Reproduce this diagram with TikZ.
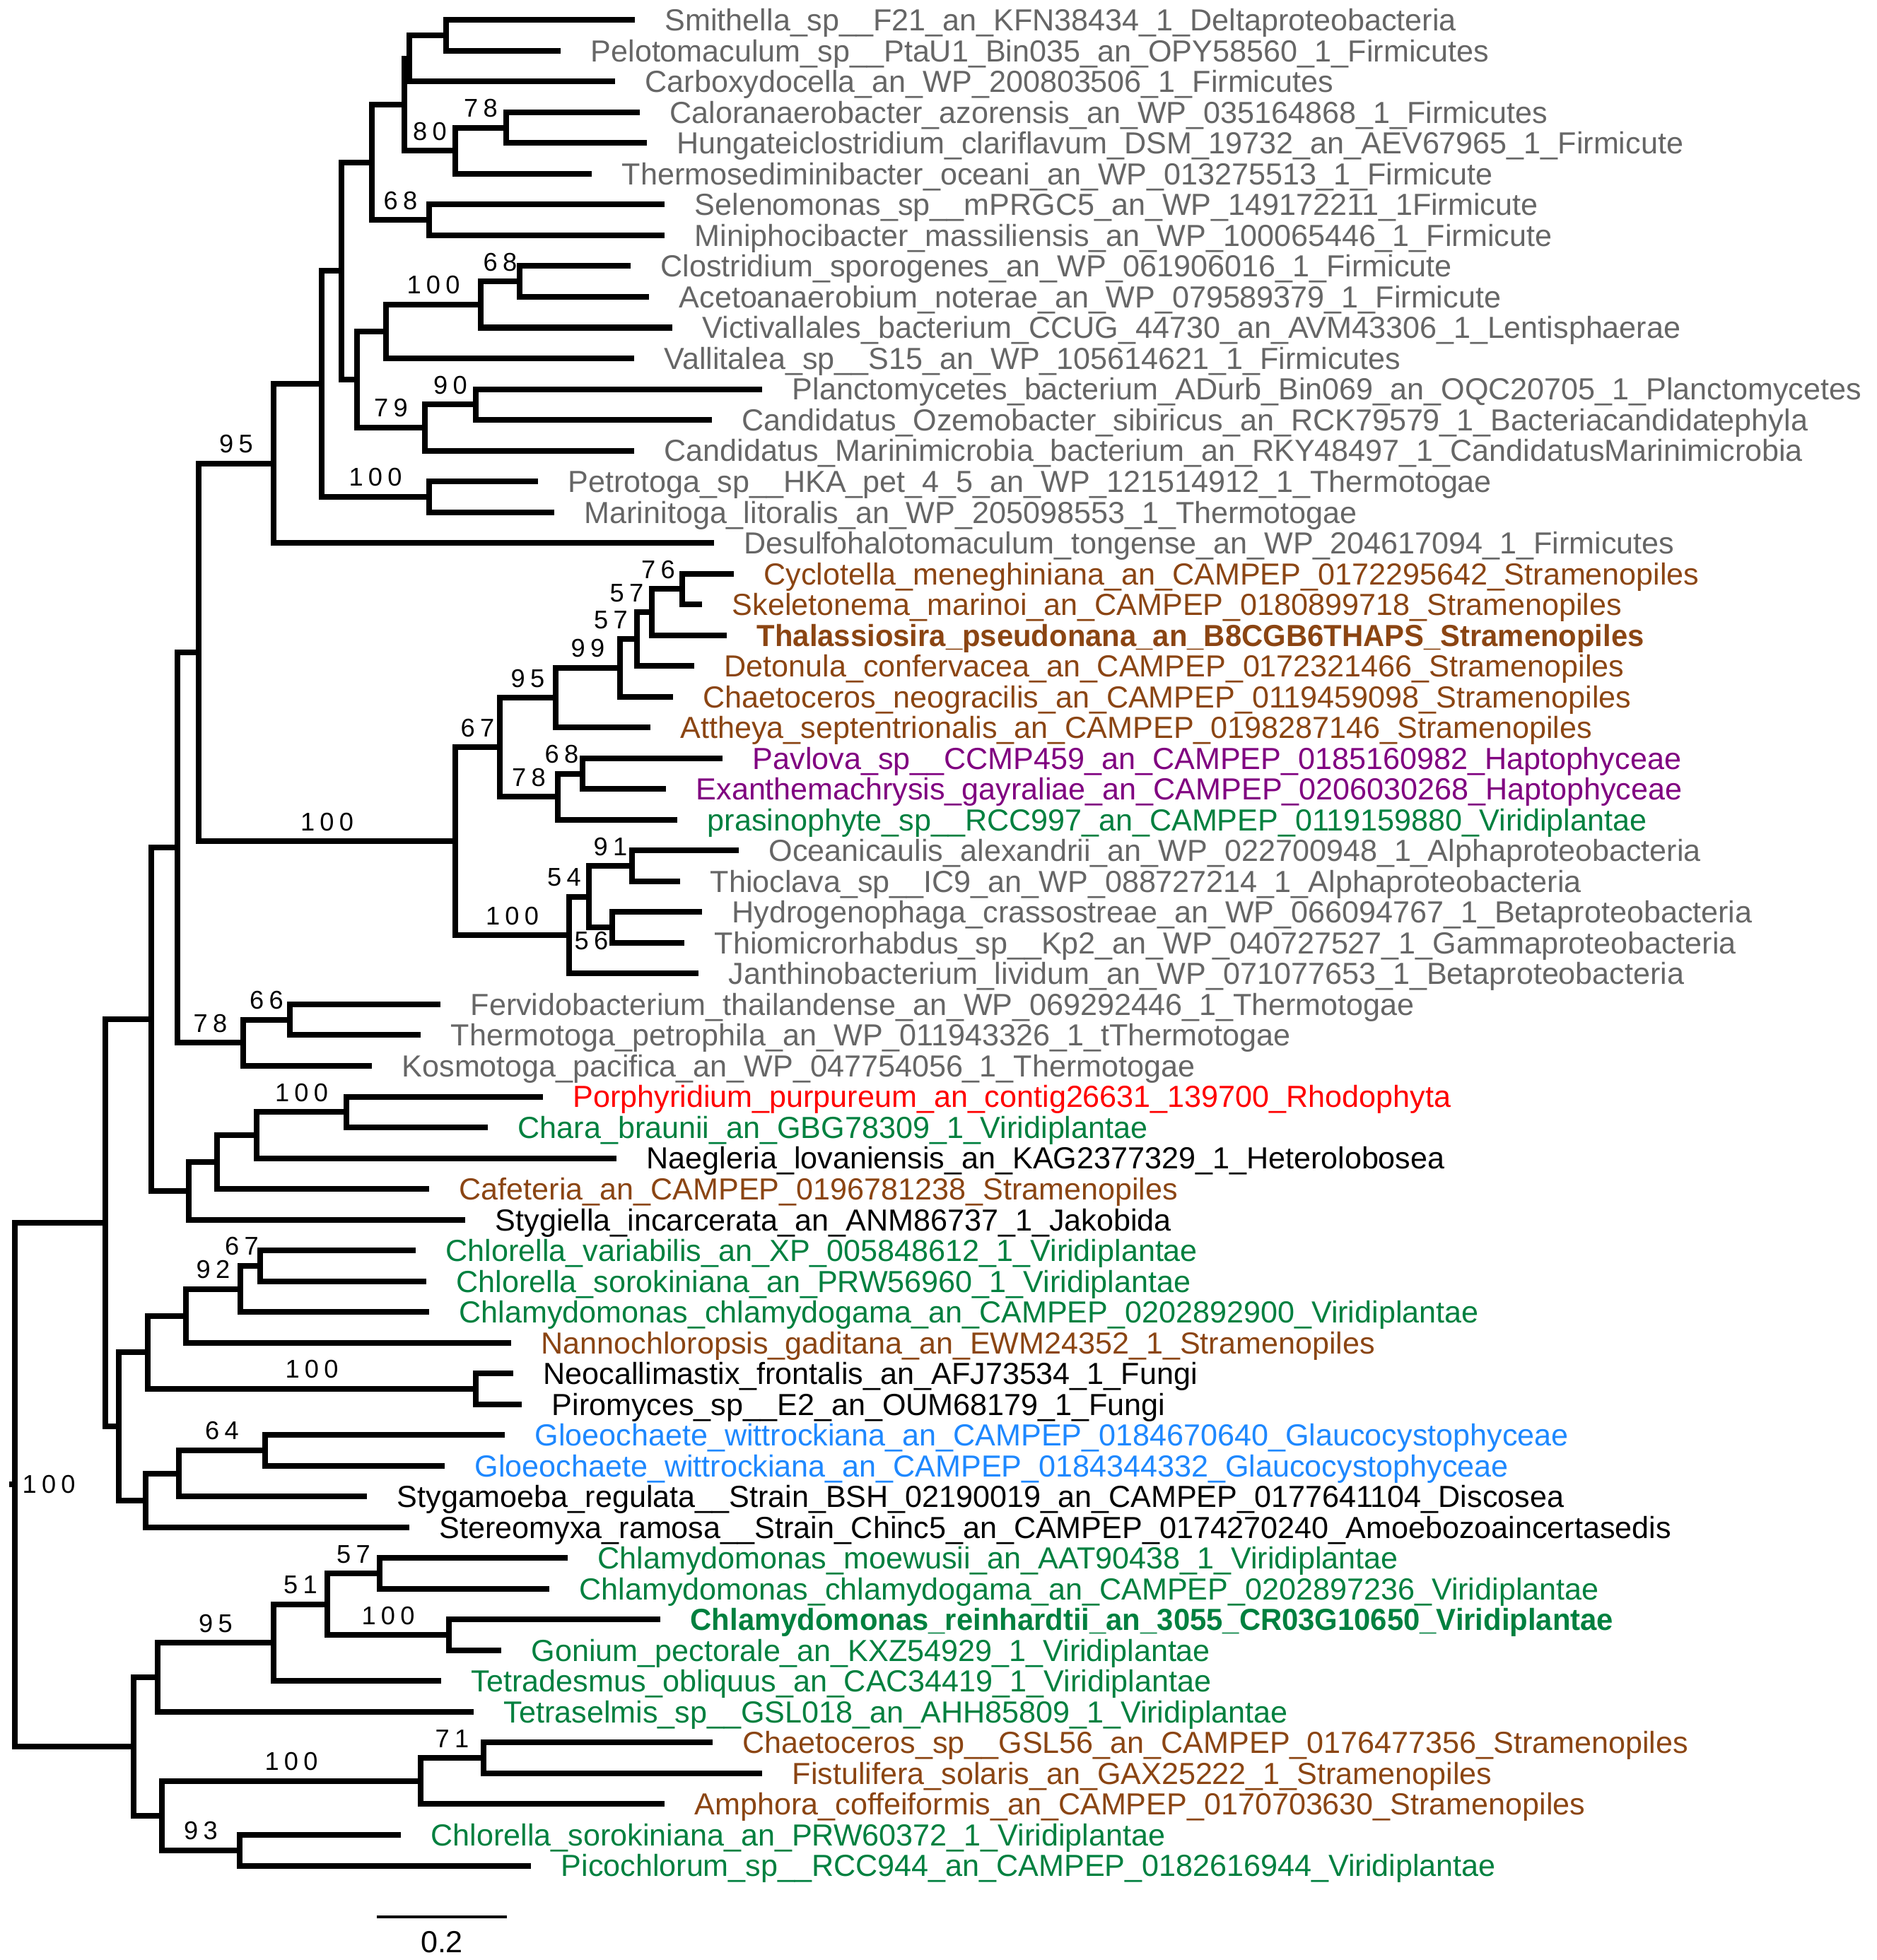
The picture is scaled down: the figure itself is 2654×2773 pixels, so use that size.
\documentclass[tikz,border=0pt]{standalone}
\usepackage{fontspec}
\setmainfont{Liberation Sans}
\newfontfamily\bootfont[LetterSpace=20]{Liberation Sans}
\newfontfamily\leafbold[FakeStretch=0.97]{Liberation Sans Bold}
\usetikzlibrary{calc}

\definecolor{bacgray}{HTML}{666666}
\definecolor{strabrown}{HTML}{8B4513}
\definecolor{haptpurple}{HTML}{800080}
\definecolor{virigreen}{HTML}{00803F}
\definecolor{glaublue}{HTML}{1E88FF}
\definecolor{rhodored}{HTML}{FF0000}

\newcommand{\leaffont}{\fontsize{12.26pt}{14pt}\selectfont}

\tikzset{
  branch/.style={line width=0.08cm, line join=miter},
  leaf/.style={anchor=base west, inner sep=0pt, xshift=0.42cm, yshift=-0.154cm, font=\leaffont},
  bac/.style={text=bacgray},
  stra/.style={text=strabrown},
  strab/.style={text=strabrown, font=\leaffont\leafbold},
  hapt/.style={text=haptpurple},
  viri/.style={text=virigreen},
  virib/.style={text=virigreen, font=\leaffont\leafbold},
  glau/.style={text=glaublue},
  rhodo/.style={text=rhodored},
  oth/.style={text=black},
  boot/.style={pos=0.5, anchor=base, inner sep=0pt, yshift=0.15cm, font=\bootfont\fontsize{10.3pt}{12pt}\selectfont},
}

% internal node: name, x, child, child
\newcommand{\clade}[4]{%
  \path let \p1=($(#3)!0.5!(#4)$) in (#2*0.01cm,\y1) coordinate (#1);
  \draw[branch] (#1) |- (#3);
  \draw[branch] (#1) |- (#4);
}

\begin{document}
\begin{tikzpicture}[x=0.01cm, y=-0.01cm]

  \useasboundingbox (0,0) rectangle (2654,2773);

  % tips
  \foreach \i/\xe/\grp/\txt in {
    1/898/bac/{Smithella\_sp\_\_F21\_an\_KFN38434\_1\_Deltaproteobacteria},
    2/793/bac/{Pelotomaculum\_sp\_\_PtaU1\_Bin035\_an\_OPY58560\_1\_Firmicutes},
    3/870/bac/{Carboxydocella\_an\_WP\_200803506\_1\_Firmicutes},
    4/905/bac/{Caloranaerobacter\_azorensis\_an\_WP\_035164868\_1\_Firmicutes},
    5/915/bac/{Hungateiclostridium\_clariflavum\_DSM\_19732\_an\_AEV67965\_1\_Firmicute},
    6/837/bac/{Thermosediminibacter\_oceani\_an\_WP\_013275513\_1\_Firmicute},
    7/940/bac/{Selenomonas\_sp\_\_mPRGC5\_an\_WP\_149172211\_1Firmicute},
    8/940/bac/{Miniphocibacter\_massiliensis\_an\_WP\_100065446\_1\_Firmicute},
    9/892/bac/{Clostridium\_sporogenes\_an\_WP\_061906016\_1\_Firmicute},
    10/918/bac/{Acetoanaerobium\_noterae\_an\_WP\_079589379\_1\_Firmicute},
    11/951/bac/{Victivallales\_bacterium\_CCUG\_44730\_an\_AVM43306\_1\_Lentisphaerae},
    12/897/bac/{Vallitalea\_sp\_\_S15\_an\_WP\_105614621\_1\_Firmicutes},
    13/1078/bac/{Planctomycetes\_bacterium\_ADurb\_Bin069\_an\_OQC20705\_1\_Planctomycetes},
    14/1007/bac/{Candidatus\_Ozemobacter\_sibiricus\_an\_RCK79579\_1\_Bacteriacandidatephyla},
    15/897/bac/{Candidatus\_Marinimicrobia\_bacterium\_an\_RKY48497\_1\_CandidatusMarinimicrobia},
    16/761/bac/{Petrotoga\_sp\_\_HKA\_pet\_4\_5\_an\_WP\_121514912\_1\_Thermotogae},
    17/784/bac/{Marinitoga\_litoralis\_an\_WP\_205098553\_1\_Thermotogae},
    18/1010/bac/{Desulfohalotomaculum\_tongense\_an\_WP\_204617094\_1\_Firmicutes},
    19/1038/stra/{Cyclotella\_meneghiniana\_an\_CAMPEP\_0172295642\_Stramenopiles},
    20/993/stra/{Skeletonema\_marinoi\_an\_CAMPEP\_0180899718\_Stramenopiles},
    21/1028/strab/{Thalassiosira\_pseudonana\_an\_B8CGB6THAPS\_Stramenopiles},
    22/982/stra/{Detonula\_confervacea\_an\_CAMPEP\_0172321466\_Stramenopiles},
    23/952/stra/{Chaetoceros\_neogracilis\_an\_CAMPEP\_0119459098\_Stramenopiles},
    24/920/stra/{Attheya\_septentrionalis\_an\_CAMPEP\_0198287146\_Stramenopiles},
    25/1022/hapt/{Pavlova\_sp\_\_CCMP459\_an\_CAMPEP\_0185160982\_Haptophyceae},
    26/942/hapt/{Exanthemachrysis\_gayraliae\_an\_CAMPEP\_0206030268\_Haptophyceae},
    27/958/viri/{prasinophyte\_sp\_\_RCC997\_an\_CAMPEP\_0119159880\_Viridiplantae},
    28/1045/bac/{Oceanicaulis\_alexandrii\_an\_WP\_022700948\_1\_Alphaproteobacteria},
    29/962/bac/{Thioclava\_sp\_\_IC9\_an\_WP\_088727214\_1\_Alphaproteobacteria},
    30/993/bac/{Hydrogenophaga\_crassostreae\_an\_WP\_066094767\_1\_Betaproteobacteria},
    31/968/bac/{Thiomicrorhabdus\_sp\_\_Kp2\_an\_WP\_040727527\_1\_Gammaproteobacteria},
    32/988/bac/{Janthinobacterium\_lividum\_an\_WP\_071077653\_1\_Betaproteobacteria},
    33/623/bac/{Fervidobacterium\_thailandense\_an\_WP\_069292446\_1\_Thermotogae},
    34/595/bac/{Thermotoga\_petrophila\_an\_WP\_011943326\_1\_tThermotogae},
    35/526/bac/{Kosmotoga\_pacifica\_an\_WP\_047754056\_1\_Thermotogae},
    36/768/rhodo/{Porphyridium\_purpureum\_an\_contig26631\_139700\_Rhodophyta},
    37/690/viri/{Chara\_braunii\_an\_GBG78309\_1\_Viridiplantae},
    38/872/oth/{Naegleria\_lovaniensis\_an\_KAG2377329\_1\_Heterolobosea},
    39/607/stra/{Cafeteria\_an\_CAMPEP\_0196781238\_Stramenopiles},
    40/658/oth/{Stygiella\_incarcerata\_an\_ANM86737\_1\_Jakobida},
    41/588/viri/{Chlorella\_variabilis\_an\_XP\_005848612\_1\_Viridiplantae},
    42/603/viri/{Chlorella\_sorokiniana\_an\_PRW56960\_1\_Viridiplantae},
    43/607/viri/{Chlamydomonas\_chlamydogama\_an\_CAMPEP\_0202892900\_Viridiplantae},
    44/723/stra/{Nannochloropsis\_gaditana\_an\_EWM24352\_1\_Stramenopiles},
    45/726/oth/{Neocallimastix\_frontalis\_an\_AFJ73534\_1\_Fungi},
    46/738/oth/{Piromyces\_sp\_\_E2\_an\_OUM68179\_1\_Fungi},
    47/714/glau/{Gloeochaete\_wittrockiana\_an\_CAMPEP\_0184670640\_Glaucocystophyceae},
    48/629/glau/{Gloeochaete\_wittrockiana\_an\_CAMPEP\_0184344332\_Glaucocystophyceae},
    49/519/oth/{Stygamoeba\_regulata\_\_Strain\_BSH\_02190019\_an\_CAMPEP\_0177641104\_Discosea},
    50/579/oth/{Stereomyxa\_ramosa\_\_Strain\_Chinc5\_an\_CAMPEP\_0174270240\_Amoebozoaincertasedis},
    51/803/viri/{Chlamydomonas\_moewusii\_an\_AAT90438\_1\_Viridiplantae},
    52/777/viri/{Chlamydomonas\_chlamydogama\_an\_CAMPEP\_0202897236\_Viridiplantae},
    53/934/virib/{Chlamydomonas\_reinhardtii\_an\_3055\_CR03G10650\_Viridiplantae},
    54/709/viri/{Gonium\_pectorale\_an\_KXZ54929\_1\_Viridiplantae},
    55/624/viri/{Tetradesmus\_obliquus\_an\_CAC34419\_1\_Viridiplantae},
    56/670/viri/{Tetraselmis\_sp\_\_GSL018\_an\_AHH85809\_1\_Viridiplantae},
    57/1008/stra/{Chaetoceros\_sp\_\_GSL56\_an\_CAMPEP\_0176477356\_Stramenopiles},
    58/1078/stra/{Fistulifera\_solaris\_an\_GAX25222\_1\_Stramenopiles},
    59/940/stra/{Amphora\_coffeiformis\_an\_CAMPEP\_0170703630\_Stramenopiles},
    60/567/viri/{Chlorella\_sorokiniana\_an\_PRW60372\_1\_Viridiplantae},
    61/751/viri/{Picochlorum\_sp\_\_RCC944\_an\_CAMPEP\_0182616944\_Viridiplantae}}
  {
    \coordinate (L\i) at (\xe, {28.3+(\i-1)*43.52});
    \node[leaf, \grp] (t\i) at (L\i) {\txt};
  }

  % bacterial clade
  \clade{nA}{631}{L1}{L2}
  \clade{nB}{579}{nA}{L3}
  \clade{n78a}{716}{L4}{L5}
  \clade{n80}{644}{n78a}{L6}
  \clade{nC}{572}{nB}{n80}
  \clade{n68a}{607}{L7}{L8}
  \clade{nD}{526}{nC}{n68a}
  \clade{n68b}{735}{L9}{L10}
  \clade{n100a}{680}{n68b}{L11}
  \clade{nG}{546}{n100a}{L12}
  \clade{n90}{673}{L13}{L14}
  \clade{n79}{601}{n90}{L15}
  \clade{nF}{505}{nG}{n79}
  \clade{nE}{483}{nD}{nF}
  \clade{n100b}{607}{L16}{L17}
  \clade{nH}{455}{nE}{n100b}
  \clade{n95a}{387}{nH}{L18}
  % diatoms, haptophytes, proteobacteria
  \clade{n76}{965}{L19}{L20}
  \clade{n57a}{922}{n76}{L21}
  \clade{n57b}{901}{n57a}{L22}
  \clade{n99}{877}{n57b}{L23}
  \clade{n95b}{786}{n99}{L24}
  \clade{n68c}{824}{L25}{L26}
  \clade{n78b}{789}{n68c}{L27}
  \clade{n67a}{707}{n95b}{n78b}
  \clade{n91}{894}{L28}{L29}
  \clade{n56}{866}{L30}{L31}
  \clade{n54}{833}{n91}{n56}
  \clade{n100h}{805}{n54}{L32}
  \clade{n100c}{644}{n67a}{n100h}
  \clade{nI}{281}{n95a}{n100c}
  \clade{n66}{410}{L33}{L34}
  \clade{n78c}{344}{n66}{L35}
  \clade{nJ}{251}{nI}{n78c}
  \clade{n100d}{490}{L36}{L37}
  \clade{nM}{363}{n100d}{L38}
  \clade{nN}{307}{nM}{L39}
  \clade{nL}{267}{nN}{L40}
  \clade{nK}{214}{nJ}{nL}
  % green algae, fungi, amoebae
  \clade{n67b}{368}{L41}{L42}
  \clade{n92}{340}{n67b}{L43}
  \clade{nR}{263}{n92}{L44}
  \clade{n100e}{673}{L45}{L46}
  \clade{nS}{209}{nR}{n100e}
  \clade{n64}{375}{L47}{L48}
  \clade{nT}{253}{n64}{L49}
  \clade{nU}{206}{nT}{L50}
  \clade{nQ}{168}{nS}{nU}
  \clade{nP}{149}{nK}{nQ}
  \clade{n57c}{537}{L51}{L52}
  \clade{n100f}{635}{L53}{L54}
  \clade{n51}{463}{n57c}{n100f}
  \clade{n95c}{387}{n51}{L55}
  \clade{nV}{223}{n95c}{L56}
  \clade{n71}{684}{L57}{L58}
  \clade{n100g}{595}{n71}{L59}
  \clade{n93}{339}{L60}{L61}
  \clade{nW}{229}{n100g}{n93}
  \clade{nY}{189}{nV}{nW}
  \clade{root}{21}{nP}{nY}

  \coordinate (rootstub) at ($(root)+(-8,0)$);
  \draw[branch] (rootstub) -- (root);
  \node[anchor=west, inner sep=0pt, xshift=0.1cm, font=\bootfont\fontsize{10.3pt}{12pt}\selectfont] (bsroot) at (root) {100};

  % bootstrap values
  \foreach \p/\c/\v/\s in {nC/n80/80/0, n80/n78a/78/0, nD/n68a/68/0, n100a/n68b/68/0,
      nG/n100a/100/0, n79/n90/90/0, nF/n79/79/0, nH/n100b/100/0, nI/n95a/95/0,
      n57a/n76/76/-0.125, n57b/n57a/57/-0.25, n99/n57b/57/-0.25, n95b/n99/99/0,
      n67a/n95b/95/0, n100c/n67a/67/0, n78b/n68c/68/-0.12, n67a/n78b/78/0,
      nI/n100c/100/0, n54/n91/91/0, n100h/n54/54/-0.21, n100c/n100h/100/0,
      nJ/n78c/78/0, n78c/n66/66/0, nM/n100d/100/0, n92/n67b/67/-0.12,
      nR/n92/92/0, nS/n100e/100/0, nT/n64/64/0, n51/n57c/57/0, n95c/n51/51/0,
      n51/n100f/100/0, nV/n95c/95/0, n100g/n71/71/0, nW/n100g/100/0, nW/n93/93/0}
    \path (\p |- \c) -- (\c) node[boot, xshift=\s cm] (bs-\c) {\v};
  \path (n54 |- n56) -- (n56) node[boot, xshift=-0.13cm, yshift=-0.46cm] (bs-n56) {56};

  % scale bar
  \coordinate (sbl) at (533,2712);
  \coordinate (sbr) at (717,2712);
  \draw[line width=0.04cm] (sbl) -- (sbr) node[midway, anchor=north, inner sep=0pt, yshift=-0.18cm, font=\leaffont] (sblabel) {0.2};

\end{tikzpicture}
\end{document}
